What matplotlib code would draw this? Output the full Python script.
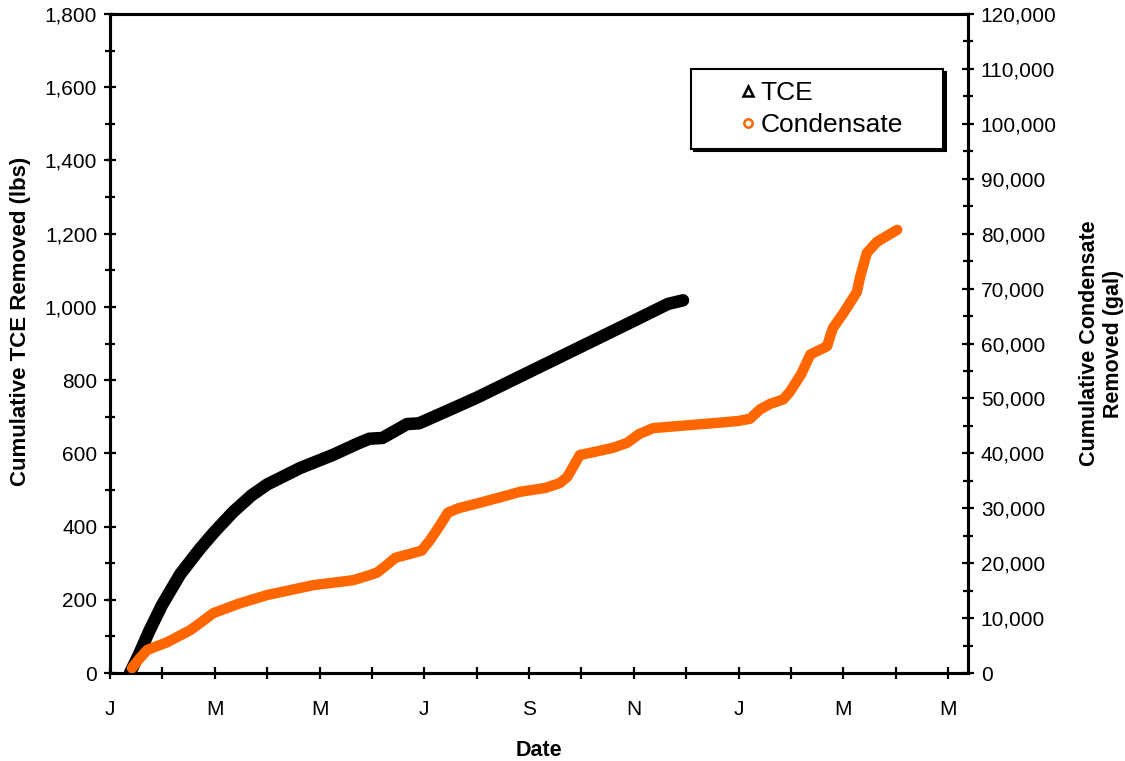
import matplotlib.pyplot as plt
from matplotlib.lines import Line2D
from matplotlib.ticker import FuncFormatter, MultipleLocator

plt.rcParams['font.family'] = ['Liberation Sans', 'DejaVu Sans']

# x in months counted from the first "J" tick
tce_month = [0.38, 0.55, 0.75, 0.99, 1.34, 1.72, 1.99, 2.35, 2.7, 3.0, 3.63, 4.26,
             4.7, 4.95, 5.2, 5.67, 5.9, 6.5, 7.0, 8.0, 9.0, 10.0, 10.65, 10.94]
tce_lbs = [0, 50, 115, 185, 270, 340, 385, 440, 485, 515, 560, 596,
           625, 640, 642, 680, 682, 720, 752, 822, 892, 962, 1008, 1018]

cond_month = [0.42, 0.55, 0.71, 1.09, 1.53, 1.72, 1.97, 2.48, 3.0, 3.88, 4.64, 4.95,
              5.1, 5.3, 5.45, 5.73, 5.95, 6.11, 6.3, 6.45, 6.65, 7.06, 7.45, 7.83,
              8.31, 8.59, 8.73, 8.97, 9.22, 9.6, 9.87, 10.1, 10.37, 10.88, 11.27,
              11.65, 12.0, 12.22, 12.41, 12.6, 12.85, 12.98, 13.2, 13.37, 13.69,
              13.8, 14.0, 14.26, 14.32, 14.45, 14.64, 15.03]
cond_gal = [900, 2500, 4200, 5600, 7800, 9100, 10900, 12700, 14200, 16000, 16900, 17800,
            18300, 19800, 21000, 21700, 22300, 24200, 26900, 29200, 30000, 31000, 32000, 33000,
            33700, 34600, 35700, 39700, 40200, 41000, 41900, 43500, 44600, 45000, 45300,
            45600, 45900, 46300, 48000, 49000, 49800, 51200, 54500, 58000, 59500,
            62800, 65500, 69400, 72100, 76500, 78500, 80700]

month_ticks = list(range(0, 17))
month_labels = ['J', '', 'M', '', 'M', '', 'J', '', 'S', '', 'N', '', 'J', '', 'M', '', 'M']

orange = '#FF6600'

fig = plt.figure(figsize=(11.25, 7.61), dpi=100)
ax = fig.add_axes([0.0978, 0.1156, 0.7626, 0.866])
ax2 = ax.twinx()

ax.plot(tce_month, tce_lbs, color='black', lw=9, solid_joinstyle='round',
        solid_capstyle='round', zorder=3)
ax2.plot(cond_month, cond_gal, color=orange, lw=7.5, solid_joinstyle='round',
         solid_capstyle='round', zorder=3)

ax.set_xlim(0, 16.38)
ax.set_ylim(0, 1800)
ax2.set_ylim(0, 120000)

ax.set_xticks(month_ticks)
ax.set_xticklabels(month_labels)
ax.yaxis.set_major_locator(MultipleLocator(200))
ax.yaxis.set_minor_locator(MultipleLocator(100))
ax2.yaxis.set_major_locator(MultipleLocator(10000))
ax2.yaxis.set_minor_locator(MultipleLocator(5000))
comma = FuncFormatter(lambda v, p: f'{int(v):,}')
ax.yaxis.set_major_formatter(comma)
ax2.yaxis.set_major_formatter(comma)

for a in (ax, ax2):
    for s in a.spines.values():
        s.set_linewidth(2.2)
    a.tick_params(which='major', direction='inout', length=8.5, width=1.6,
                  labelsize=15, pad=5)
    a.tick_params(which='minor', direction='inout', length=6.5, width=1.6)
ax.tick_params(axis='x', pad=15)

ax.set_xlabel('Date', fontsize=15.5, fontweight='bold', labelpad=15)
ax.set_ylabel('Cumulative TCE Removed (lbs)', fontsize=16, fontweight='bold', labelpad=10)
ax.yaxis.label.set_y(0.534)
ax2.set_ylabel('Cumulative Condensate\nRemoved (gal)', fontsize=15.5, fontweight='bold',
               labelpad=16, linespacing=1.2, multialignment='center')

handles = [
    Line2D([], [], marker='^', ls='None', mfc='white', mec='black', mew=1.8, ms=6.5),
    Line2D([], [], marker='o', ls='None', mfc='white', mec=orange, mew=1.8, ms=6),
]
leg = ax.legend(handles, ['TCE', 'Condensate'], loc='upper left',
                bbox_to_anchor=(0.677, 0.801, 0.294, 0.1155), mode='expand',
                borderaxespad=0, fontsize=19, frameon=True, fancybox=False,
                borderpad=0.45, labelspacing=0.3, handlelength=3.4,
                handletextpad=-1.2, shadow={'color': 'black', 'alpha': 1})
leg.get_frame().set_edgecolor('black')
leg.get_frame().set_linewidth(1.5)
leg.get_frame().set_alpha(1)
leg.set_zorder(10)

plt.savefig('out.png', dpi=100)
